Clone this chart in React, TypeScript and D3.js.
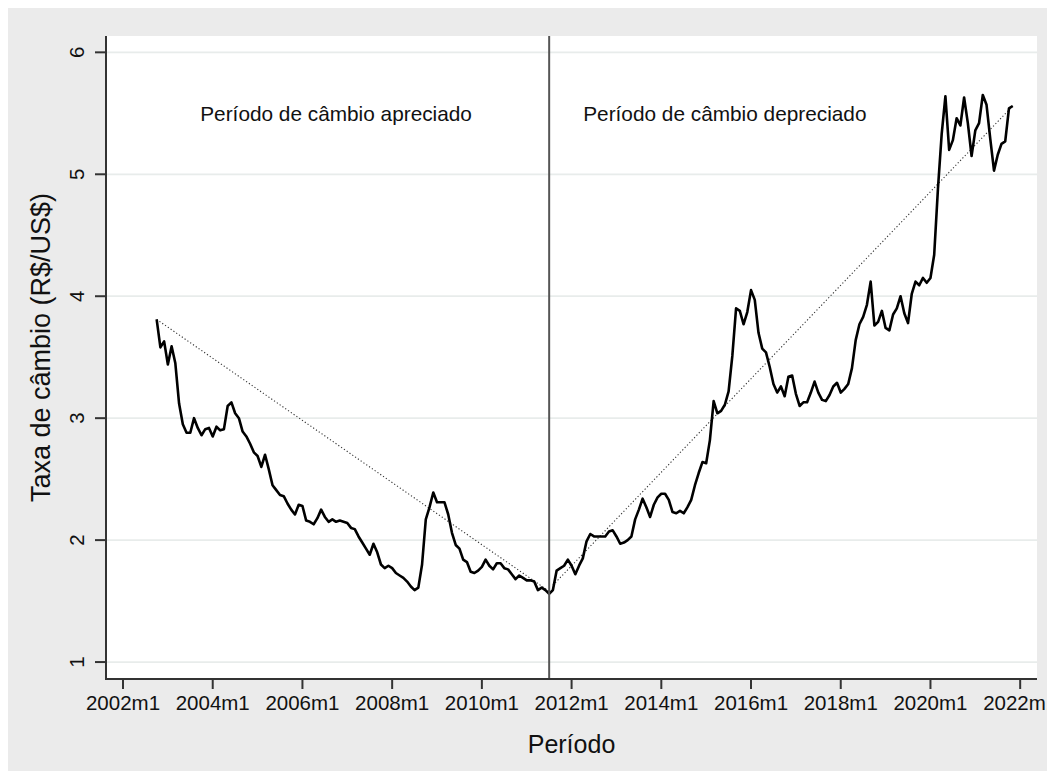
import * as d3 from 'd3';

const WIDTH = 1047;
const HEIGHT = 763;
const FONT = "'Liberation Sans', Arial, Helvetica, sans-serif";

// taxa de câmbio média mensal (R$/US$), a partir de 2002m10
const inicio = '2002m10';
const taxa = [
  3.81, 3.58, 3.63, // 2002
  3.44, 3.59, 3.45, 3.12, 2.95, 2.88, 2.88, 3.0, 2.92, 2.86, 2.91, 2.92, // 2003
  2.85, 2.93, 2.9, 2.91, 3.1, 3.13, 3.04, 3.0, 2.89, 2.85, 2.79, 2.72, // 2004
  2.69, 2.6, 2.7, 2.58, 2.45, 2.41, 2.37, 2.36, 2.3, 2.25, 2.21, 2.29, // 2005
  2.28, 2.16, 2.15, 2.13, 2.18, 2.25, 2.19, 2.15, 2.17, 2.15, 2.16, 2.15, // 2006
  2.14, 2.1, 2.09, 2.03, 1.98, 1.93, 1.88, 1.97, 1.9, 1.8, 1.77, 1.79, // 2007
  1.77, 1.73, 1.71, 1.69, 1.66, 1.62, 1.59, 1.61, 1.8, 2.17, 2.27, 2.39, // 2008
  2.31, 2.31, 2.31, 2.21, 2.06, 1.96, 1.93, 1.84, 1.82, 1.74, 1.73, 1.75, // 2009
  1.78, 1.84, 1.79, 1.76, 1.81, 1.81, 1.77, 1.76, 1.72, 1.68, 1.71, 1.69, // 2010
  1.67, 1.67, 1.66, 1.59, 1.61, 1.59, 1.56, 1.59, 1.75, 1.77, 1.79, 1.84, // 2011
  1.79, 1.72, 1.79, 1.85, 1.99, 2.05, 2.03, 2.03, 2.03, 2.03, 2.07, 2.08, // 2012
  2.03, 1.97, 1.98, 2.0, 2.03, 2.17, 2.25, 2.34, 2.27, 2.19, 2.29, 2.35, // 2013
  2.38, 2.38, 2.33, 2.23, 2.22, 2.24, 2.22, 2.27, 2.33, 2.45, 2.55, 2.64, // 2014
  2.63, 2.82, 3.14, 3.04, 3.06, 3.11, 3.22, 3.51, 3.9, 3.88, 3.77, 3.87, // 2015
  4.05, 3.97, 3.7, 3.57, 3.54, 3.42, 3.28, 3.21, 3.26, 3.18, 3.34, 3.35, // 2016
  3.2, 3.1, 3.13, 3.13, 3.21, 3.3, 3.21, 3.15, 3.14, 3.19, 3.26, 3.29, // 2017
  3.21, 3.24, 3.28, 3.41, 3.64, 3.77, 3.83, 3.93, 4.12, 3.76, 3.79, 3.88, // 2018
  3.74, 3.72, 3.85, 3.9, 4.0, 3.86, 3.78, 4.02, 4.12, 4.09, 4.15, 4.11, // 2019
  4.15, 4.34, 4.88, 5.33, 5.64, 5.2, 5.28, 5.46, 5.4, 5.63, 5.42, 5.15, // 2020
  5.36, 5.42, 5.65, 5.57, 5.29, 5.03, 5.16, 5.25, 5.27, 5.54, 5.56, // 2021
];

// linhas de tendência (pontilhadas) de cada período
const tendenciaApreciado: [string, number][] = [['2002m10', 3.81], ['2011m7', 1.58]];
const tendenciaDepreciado: [string, number][] = [['2011m8', 1.63], ['2021m11', 5.56]];

const quebra = '2011m7';

const yTicks = [1, 2, 3, 4, 5, 6];
const xTicks = ['2002m1', '2004m1', '2006m1', '2008m1', '2010m1', '2012m1', '2014m1', '2016m1', '2018m1', '2020m1', '2022m1'];

const anotacoes = [
  { texto: 'Período de câmbio apreciado', mes: '2006m10', valor: 5.5 },
  { texto: 'Período de câmbio depreciado', mes: '2015m6', valor: 5.5 },
];

// Stata %tm: meses desde 1960m1
const tm = (s: string) => {
  const [a, m] = s.split('m').map(Number);
  return (a - 1960) * 12 + m - 1;
};

const PLOT = { left: 98, right: 1029, top: 28, bottom: 671 };

export default function App() {
  const x = d3
    .scaleLinear()
    .domain([tm('2002m1') - 4.55, tm('2022m1') + 4.5])
    .range([PLOT.left, PLOT.right]);
  const y = d3.scaleLinear().domain([0.861, 6.134]).range([PLOT.bottom, PLOT.top]);

  const t0 = tm(inicio);
  const linha = d3
    .line<number>()
    .x((_, i) => x(t0 + i))
    .y((d) => y(d));

  const tend = d3
    .line<[string, number]>()
    .x((d) => x(tm(d[0])))
    .y((d) => y(d[1]));

  return (
    <svg width={WIDTH} height={HEIGHT} style={{ display: 'block' }} fontFamily={FONT}>
      <rect width={WIDTH} height={HEIGHT} fill="#ebebeb" />
      <rect
        x={PLOT.left}
        y={PLOT.top}
        width={PLOT.right - PLOT.left}
        height={PLOT.bottom - PLOT.top}
        fill="#ffffff"
      />
      {yTicks.map((t) => (
        <line key={t} x1={PLOT.left} x2={PLOT.right} y1={y(t)} y2={y(t)} stroke="#e8eceb" strokeWidth={1.8} />
      ))}

      <path d={tend(tendenciaApreciado)!} fill="none" stroke="#333" strokeWidth={1.1} strokeDasharray="1.2,2.2" />
      <path d={tend(tendenciaDepreciado)!} fill="none" stroke="#333" strokeWidth={1.1} strokeDasharray="1.2,2.2" />

      <path d={linha(taxa)!} fill="none" stroke="#000" strokeWidth={2.6} strokeLinejoin="round" />

      <line x1={x(tm(quebra))} x2={x(tm(quebra))} y1={PLOT.top} y2={PLOT.bottom} stroke="#555" strokeWidth={2} />

      {anotacoes.map((a) => (
        <text key={a.texto} x={x(tm(a.mes))} y={y(a.valor) + 7.5} textAnchor="middle" fontSize={20.8} fill="#111">
          {a.texto}
        </text>
      ))}

      {/* eixo y */}
      <line x1={PLOT.left} x2={PLOT.left} y1={PLOT.top} y2={PLOT.bottom + 1} stroke="#333" strokeWidth={2} />
      {yTicks.map((t) => (
        <g key={t} transform={`translate(${PLOT.left},${y(t)})`}>
          <line x1={-11} x2={0} stroke="#333" strokeWidth={2} />
          <text transform="translate(-22,0) rotate(-90)" textAnchor="middle" fontSize={20.5} fill="#111">
            {t}
          </text>
        </g>
      ))}

      {/* eixo x */}
      <line x1={PLOT.left - 1} x2={PLOT.right} y1={PLOT.bottom} y2={PLOT.bottom} stroke="#333" strokeWidth={2} />
      {xTicks.map((t) => (
        <g key={t} transform={`translate(${x(tm(t))},${PLOT.bottom})`}>
          <line y1={0} y2={10} stroke="#333" strokeWidth={2} />
          <text y={31} textAnchor="middle" fontSize={20.5} fill="#111">
            {t}
          </text>
        </g>
      ))}

      <text x={(PLOT.left + PLOT.right) / 2} y={745} textAnchor="middle" fontSize={25} fill="#111">
        Período
      </text>
      <text
        transform={`translate(42,${(PLOT.top + PLOT.bottom) / 2 - 10}) rotate(-90)`}
        textAnchor="middle"
        fontSize={27}
        fill="#111"
      >
        Taxa de câmbio (R$/US$)
      </text>
    </svg>
  );
}
